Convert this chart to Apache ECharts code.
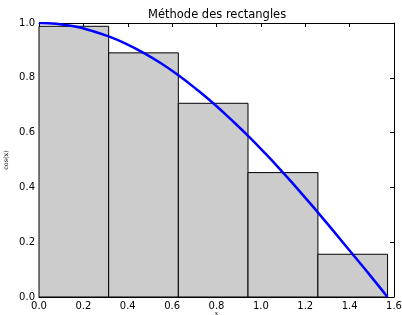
<!DOCTYPE html>
<html>
<head>
<meta charset="utf-8">
<script src="https://cdn.jsdelivr.net/npm/echarts@6/dist/echarts.min.js"></script>
<style>
    html, body { margin: 0; padding: 0; background: #fff; }
    #mainChart { width: 402px; height: 315px; }
</style>
</head>
<body>
<div id="mainChart"></div>
<script>
// rectangles: left edge, right edge, height
const rectLeft = [0.0, 0.314, 0.628, 0.942, 1.257];
const rectRight = [0.314, 0.628, 0.942, 1.257, 1.571];
const rectHeight = [0.988, 0.891, 0.707, 0.454, 0.156];

// blue curve points
const curveX = [0, 0.0785, 0.157, 0.2356, 0.3142, 0.3927, 0.4712, 0.5498, 0.6283, 0.7069, 0.7854,
    0.8639, 0.9425, 1.021, 1.0996, 1.1781, 1.2566, 1.3352, 1.4137, 1.4923, 1.5708];
const curveY = [1.0, 0.997, 0.988, 0.972, 0.951, 0.924, 0.891, 0.853, 0.809, 0.760, 0.707,
    0.649, 0.588, 0.523, 0.454, 0.383, 0.309, 0.233, 0.156, 0.079, 0.0];

const rectData = [];
for (let i = 0; i < rectLeft.length; i++) {
    rectData.push([rectLeft[i], rectRight[i], rectHeight[i]]);
}
const curveData = [];
for (let i = 0; i < curveX.length; i++) {
    curveData.push([curveX[i], curveY[i]]);
}

const fontFam = 'DejaVu Sans';
const axisLine = { show: true, onZero: false, lineStyle: { color: '#000', width: 1 } };
const tickIn = { show: true, inside: true, length: 4, lineStyle: { color: '#000' } };

const myChart = echarts.init(document.getElementById('mainChart'));
const option = {
    animation: false,
    title: {
        text: 'Méthode des rectangles',
        left: 143,
        top: 4,
        textStyle: { fontFamily: fontFam, fontSize: 11.5, fontWeight: 'normal', color: '#000' }
    },
    grid: { left: 39, right: 8, top: 23, bottom: 18, containLabel: false, outerBoundsMode: 'none' },
    xAxis: [
        {
            type: 'value', min: 0, max: 1.6, interval: 0.2,
            name: 'x', nameLocation: 'middle', nameGap: 13, nameMoveOverlap: false,
            nameTextStyle: { fontFamily: 'DejaVu Serif', fontStyle: 'italic', fontSize: 6, color: '#000' },
            axisLine: axisLine, axisTick: tickIn, splitLine: { show: false },
            axisLabel: {
                fontFamily: fontFam, fontSize: 10, color: '#000', margin: 4,
                formatter: function (v) { return v.toFixed(1); }
            }
        },
        {
            type: 'value', min: 0, max: 1.6, interval: 0.2, position: 'top',
            axisLine: axisLine, axisTick: tickIn, splitLine: { show: false },
            axisLabel: { show: false }
        }
    ],
    yAxis: [
        {
            type: 'value', min: 0, max: 1.0, interval: 0.2,
            name: 'cos(x)', nameLocation: 'middle', nameGap: 29, nameRotate: 90, nameMoveOverlap: false,
            nameTextStyle: { fontFamily: 'DejaVu Serif', fontSize: 6.5, color: '#000' },
            axisLine: axisLine, axisTick: tickIn, splitLine: { show: false },
            axisLabel: {
                fontFamily: fontFam, fontSize: 10, color: '#000', margin: 4,
                formatter: function (v) { return v.toFixed(1); }
            }
        },
        {
            type: 'value', min: 0, max: 1.0, interval: 0.2, position: 'right',
            axisLine: axisLine, axisTick: tickIn, splitLine: { show: false },
            axisLabel: { show: false }
        }
    ],
    series: [
        {
            type: 'custom',
            data: rectData,
            encode: { x: [0, 1], y: 2 },
            renderItem: function (params, api) {
                const p0 = api.coord([api.value(0), api.value(2)]);
                const p1 = api.coord([api.value(1), 0]);
                return {
                    type: 'rect',
                    shape: { x: p0[0], y: p0[1], width: p1[0] - p0[0], height: p1[1] - p0[1] },
                    style: { fill: '#cccccc', stroke: '#000', lineWidth: 1 }
                };
            },
            z: 1
        },
        {
            type: 'line',
            data: curveData,
            smooth: true,
            showSymbol: false,
            lineStyle: { color: '#0000ff', width: 2.5 },
            z: 3
        }
    ]
};
myChart.setOption(option);
</script>
</body>
</html>
